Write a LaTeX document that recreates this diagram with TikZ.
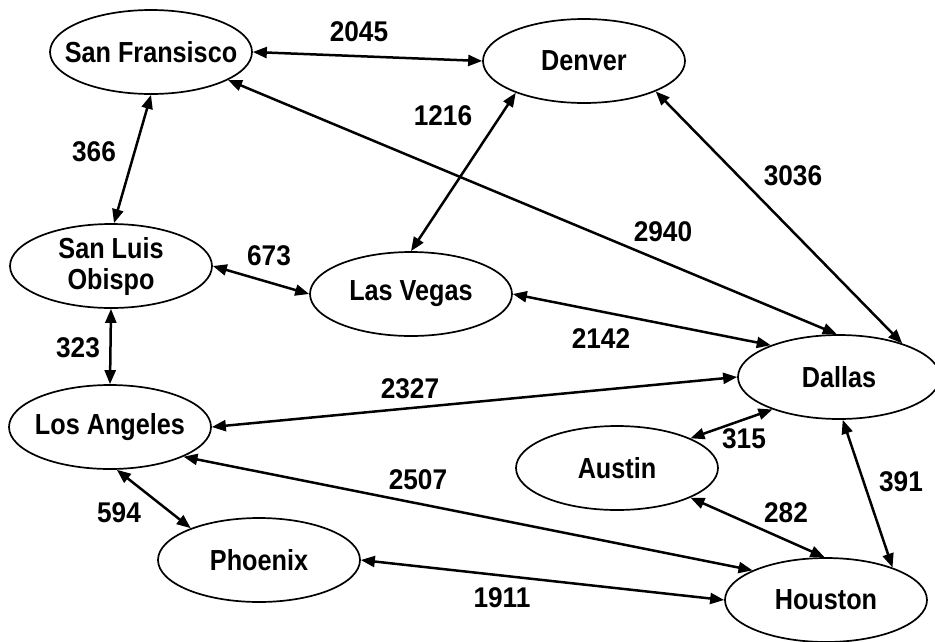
\documentclass[tikz,border=0pt]{standalone}
\usepackage{fontspec}
\newfontfamily\arialc{Liberation Sans}[FakeStretch=0.87]
\newfontfamily\ariald{Liberation Sans}[FakeStretch=0.92]
\usetikzlibrary{shapes.geometric,arrows.meta}
\begin{document}
\begin{tikzpicture}[x=1pt,y=-1pt,
  city/.style={ellipse,draw,line width=1.7pt,minimum width=202pt,minimum height=84pt,inner sep=0pt},
  ctext/.style={font=\arialc\bfseries\fontsize{29}{31}\selectfont,align=center,inner sep=0pt},
  road/.style={line width=2.5pt,{Triangle[length=14pt,width=11pt]}-{Triangle[length=14pt,width=11pt]}},
  dist/.style={font=\ariald\bfseries\fontsize{28.5}{30}\selectfont,inner sep=0pt}]
\fill[white] (0,0) rectangle (935,641);
\useasboundingbox (0,0) rectangle (935,641);
% cities
\node[city,label={[ctext]center:San Fransisco}] (sf) at (151,52) {};
\node[city,label={[ctext]center:Denver}] (den) at (584,61) {};
\node[city,label={[ctext]center:{San Luis\\Obispo}}] (slo) at (111,266) {};
\node[city,label={[ctext]center:Las Vegas}] (lv) at (411,294) {};
\node[city,label={[ctext]center:Dallas}] (dal) at (839,377) {};
\node[city,label={[ctext]center:Los Angeles}] (la) at (110,427) {};
\node[city,label={[ctext]center:Austin}] (aus) at (617,468) {};
\node[city,label={[ctext]center:Phoenix}] (phx) at (259,560) {};
\node[city,label={[ctext]center:Houston}] (hou) at (826,600) {};
% roads
\draw[road] (sf.east) -- (den.west);
\draw[road] (sf.south) -- (slo.86);
\draw[road] (sf.-20) -- (dal.93);
\draw[road] (den.205) -- (lv.north);
\draw[road] (den.-23) -- (dal.28);
\draw[road] (slo.east) -- (lv.west);
\draw[road] (lv.east) -- (dal.155);
\draw[road] (slo.south) -- (la.north);
\draw[road] (la.east) -- (dal.west);
\draw[road] (dal.-154) -- (aus.22);
\draw[road] (dal.-85) -- (hou.26);
\draw[road] (aus.-22) -- (hou.92);
\draw[road] (la.-22) -- (hou.158);
\draw[road] (la.-81) -- (phx.155);
\draw[road] (phx.east) -- (hou.west);
% distances
\node[dist] (d2045) at (359,32) {2045};
\node[dist] (d366) at (94,152) {366};
\node[dist] (d1216) at (443,116) {1216};
\node[dist] (d3036) at (793,176) {3036};
\node[dist] (d2940) at (663,232) {2940};
\node[dist] (d673) at (269,256) {673};
\node[dist] (d2142) at (601,339) {2142};
\node[dist] (d323) at (78,348) {323};
\node[dist] (d2327) at (410,389) {2327};
\node[dist] (d315) at (744,439) {315};
\node[dist] (d391) at (901,482) {391};
\node[dist] (d282) at (786,513) {282};
\node[dist] (d2507) at (418,480) {2507};
\node[dist] (d594) at (119,513) {594};
\node[dist] (d1911) at (502,598) {1911};
\end{tikzpicture}
\end{document}
